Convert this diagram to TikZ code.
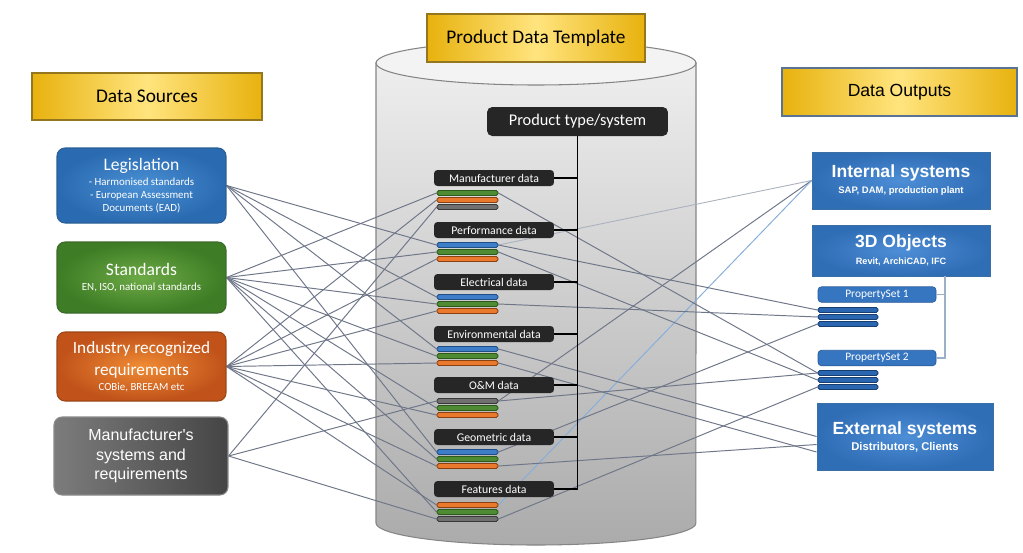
\documentclass[tikz,border=0pt]{standalone}
\usepackage{fontspec}
\setmainfont{Carlito}
\newfontfamily\arialf{Liberation Sans}
\usepackage{tikz}
\usetikzlibrary{positioning}
\pgfdeclarelayer{back}
\pgfdeclarelayer{wires}
\pgfsetlayers{back,wires,main}

\begin{document}
\begin{tikzpicture}[x=0.02cm,y=-0.02cm,
	head node/.style={draw=goldB,line width=0.8pt,left color=goldD,right color=goldD,middle color=goldL,minimum width=4.6cm,minimum height=0.94cm,inner sep=0pt,font=\fontsize{11}{13}\selectfont},
	src node/.style={rounded corners=0.16cm,line width=0.6pt,text=white,align=center,minimum width=3.38cm,inner sep=1pt,font=\fontsize{6.2}{7.3}\selectfont},
	out node/.style={draw=outB,line width=0.5pt,inner color=outL,outer color=outD,text=white,align=center,minimum width=3.56cm,inner sep=1pt},
	lbl node/.style={fill=lblK,rounded corners=2pt,text=white,minimum width=2.4cm,minimum height=0.32cm,inner sep=0pt,font=\fontsize{6.7}{8}\selectfont},
	bar node/.style={rounded corners=1pt,line width=0.5pt,minimum width=1.22cm,minimum height=0.1cm,inner sep=0pt},
	bluebar/.style={bar node,fill=barB,draw=barBd},
	greenbar/.style={bar node,fill=barG,draw=barGd},
	orangebar/.style={bar node,fill=barO,draw=barOd},
	graybar/.style={bar node,fill=barY,draw=barYd},
	ps node/.style={fill=psF,draw=psB,line width=0.4pt,rounded corners=2pt,text=white,minimum width=2.36cm,minimum height=0.31cm,inner sep=0pt,font=\fontsize{6.5}{8}\selectfont},
	psbar/.style={fill=psBar,draw=psBarD,line width=0.5pt,rounded corners=1pt,minimum width=1.2cm,minimum height=0.1cm,inner sep=0pt},
	wire/.style={color=wireC,line width=0.55pt},
	litewire/.style={color=wireL,line width=0.5pt},
	bluewire/.style={color=wireBl,line width=0.55pt}]
	
	\definecolor{goldD}{HTML}{E8B20E}
	\definecolor{goldL}{HTML}{FFE47E}
	\definecolor{goldB}{HTML}{94761E}
	\definecolor{outHB}{HTML}{5A7394}
	\definecolor{legD}{HTML}{2A6AB0}
	\definecolor{legL}{HTML}{4A90D4}
	\definecolor{legB}{HTML}{2B5F94}
	\definecolor{stdD}{HTML}{3E7C25}
	\definecolor{stdL}{HTML}{6CAA46}
	\definecolor{stdB}{HTML}{3C6A2A}
	\definecolor{indD}{HTML}{C0521A}
	\definecolor{indL}{HTML}{F08C34}
	\definecolor{indB}{HTML}{9A4717}
	\definecolor{manD}{HTML}{454545}
	\definecolor{manL}{HTML}{7C7C7C}
	\definecolor{manB}{HTML}{8A8A8A}
	\definecolor{outD}{HTML}{2F6DB5}
	\definecolor{outL}{HTML}{4D8ED6}
	\definecolor{outB}{HTML}{3A6FA8}
	\definecolor{lblK}{HTML}{262626}
	\definecolor{barB}{HTML}{3E7DC8}
	\definecolor{barBd}{HTML}{1F4E86}
	\definecolor{barG}{HTML}{4E8B33}
	\definecolor{barGd}{HTML}{2C5A1A}
	\definecolor{barO}{HTML}{E8792D}
	\definecolor{barOd}{HTML}{8C3F10}
	\definecolor{barY}{HTML}{707070}
	\definecolor{barYd}{HTML}{383838}
	\definecolor{psF}{HTML}{3676C0}
	\definecolor{psB}{HTML}{2A5E9A}
	\definecolor{psBar}{HTML}{2B67B0}
	\definecolor{psBarD}{HTML}{173E6E}
	\definecolor{wireC}{HTML}{6E7688}
	\definecolor{wireL}{HTML}{AAB2BE}
	\definecolor{wireBl}{HTML}{86AEDA}
	\definecolor{treeC}{HTML}{9AAFC8}
	\definecolor{cylL}{HTML}{EEEEEE}
	\definecolor{cylD}{HTML}{ABABAB}
	\definecolor{cylT}{HTML}{F3F3F3}
	\definecolor{cylB}{HTML}{858585}
	
	\useasboundingbox (0,0) rectangle (1023,552);
	
	\begin{pgfonlayer}{back}
	\fill[white] (0,0) rectangle (1023,552);
	\draw[draw=cylB,line width=0.6pt,top color=cylL,bottom color=cylD] (376,63) -- (376,523) arc[start angle=180,end angle=360,x radius=3.2cm,y radius=0.44cm] -- (696,63) -- cycle;
	\draw[draw=cylB,line width=0.6pt,fill=cylT] (536,63) ellipse [x radius=3.2cm,y radius=0.44cm];
	\end{pgfonlayer}
	
	\node[head node] (dsrc) at (147,96.5) {Data Sources};
	\node[head node,minimum width=4.36cm,minimum height=0.96cm] (pdt) at (536,38) {Product Data Template};
	\node[head node,draw=outHB,minimum width=4.7cm,minimum height=0.96cm,font=\arialf\fontsize{10}{12}\selectfont] (dout) at (899.5,92) {Data Outputs};
	
	\node[src node,minimum height=1.5cm,draw=legB,inner color=legL,outer color=legD] (leg) at (141.5,185.5) {{\fontsize{10}{12}\selectfont Legislation}\\[1.4pt]- Harmonised standards\\- European Assessment\\Documents (EAD)};
	\node[src node,minimum height=1.42cm,draw=stdB,inner color=stdL,outer color=stdD] (std) at (141.5,277.5) {{\fontsize{10}{12}\selectfont Standards}\\[1.6pt]EN, ISO, national standards};
	\node[src node,minimum height=1.38cm,draw=indB,inner color=indL,outer color=indD] (ind) at (141.5,366.5) {{\fontsize{9.8}{12}\selectfont Industry recognized}\\[3.2pt]{\fontsize{9.8}{12}\selectfont requirements}\\[1.4pt]COBie, BREEAM etc};
	\node[src node,minimum height=1.56cm,minimum width=3.48cm,draw=manB,left color=manL,right color=manD,font=\arialf\fontsize{9.1}{11.2}\selectfont] (man) at (141,456) {Manufacturer's\\systems and\\requirements};
	
	\node[fill=lblK,rounded corners=3pt,text=white,minimum width=3.62cm,minimum height=0.58cm,inner sep=0pt,font=\fontsize{9.3}{11}\selectfont] (pts) at (577.5,121.5) {Product type/system};
	
	\node[lbl node] (md) at (494,178) {Manufacturer data};
	\node[greenbar] (m1) at (467.5,193) {};
	\node[orangebar] (m2) at (467.5,200) {};
	\node[graybar] (m3) at (467.5,207) {};
	\node[lbl node] (pd) at (494,230) {Performance data};
	\node[bluebar] (p1) at (467.5,245) {};
	\node[greenbar] (p2) at (467.5,252) {};
	\node[orangebar] (p3) at (467.5,259) {};
	\node[lbl node] (ed) at (494,282) {Electrical data};
	\node[bluebar] (e1) at (467.5,297) {};
	\node[greenbar] (e2) at (467.5,304) {};
	\node[orangebar] (e3) at (467.5,311) {};
	\node[lbl node] (vd) at (494,334) {Environmental data};
	\node[bluebar] (v1) at (467.5,349) {};
	\node[greenbar] (v2) at (467.5,356) {};
	\node[orangebar] (v3) at (467.5,363) {};
	\node[lbl node] (od) at (494,385) {O\&M data};
	\node[graybar] (o1) at (467.5,401) {};
	\node[greenbar] (o2) at (467.5,408) {};
	\node[orangebar] (o3) at (467.5,415) {};
	\node[lbl node] (gd) at (494,437) {Geometric data};
	\node[bluebar] (g1) at (467.5,452) {};
	\node[greenbar] (g2) at (467.5,459) {};
	\node[orangebar] (g3) at (467.5,466) {};
	\node[lbl node] (fd) at (494,489) {Features data};
	\node[orangebar] (f1) at (467.5,505) {};
	\node[greenbar] (f2) at (467.5,512) {};
	\node[graybar] (f3) at (467.5,519) {};
	
	\draw[line width=0.7pt] (pts.south) |- (fd.east);
	\draw[line width=0.7pt] (md.east) -- (md.east -| pts.south);
	\draw[line width=0.7pt] (pd.east) -- (pd.east -| pts.south);
	\draw[line width=0.7pt] (ed.east) -- (ed.east -| pts.south);
	\draw[line width=0.7pt] (vd.east) -- (vd.east -| pts.south);
	\draw[line width=0.7pt] (od.east) -- (od.east -| pts.south);
	\draw[line width=0.7pt] (gd.east) -- (gd.east -| pts.south);
	
	\node[out node,minimum height=1.14cm] (int) at (901,180.5) {{\arialf\bfseries\fontsize{10}{12}\selectfont Internal systems}\\[-2.9pt]{\arialf\bfseries\fontsize{5.4}{6.5}\selectfont SAP, DAM, production plant}};
	\node[out node,minimum height=1.02cm] (obj) at (901,250.5) {{\arialf\bfseries\fontsize{10}{12}\selectfont 3D Objects}\\[-2.4pt]{\arialf\bfseries\fontsize{5.2}{6.3}\selectfont Revit, ArchiCAD, IFC}};
	\node[ps node] (ps1) at (877,294.5) {PropertySet 1};
	\node[psbar] (q1) at (848,310) {};
	\node[psbar] (q2) at (848,317) {};
	\node[psbar] (q3) at (848,324) {};
	\node[ps node] (ps2) at (877,358) {PropertySet 2};
	\node[psbar] (r1) at (848,373) {};
	\node[psbar] (r2) at (848,380) {};
	\node[psbar] (r3) at (848,387) {};
	\node[out node,minimum height=1.34cm,minimum width=3.52cm] (ext) at (905,436.5) {{\arialf\bfseries\fontsize{10}{12}\selectfont External systems}\\[-2.9pt]{\arialf\bfseries\fontsize{6.4}{7.7}\selectfont Distributors, Clients}};
	
	\coordinate (objdrop) at (945,276);
	\draw[treeC,line width=0.8pt] (objdrop) |- (ps2.east);
	\draw[treeC,line width=0.8pt] (ps1.east) -- (ps1.east -| objdrop);
	
	\begin{pgfonlayer}{wires}
	\path[wire]
	(leg.east) edge (p1.west)
	(leg.east) edge (e1.west)
	(leg.east) edge (v1.west)
	(leg.east) edge (g1.west)
	(std.east) edge (m1.west)
	(std.east) edge (p2.west)
	(std.east) edge (e2.west)
	(std.east) edge (v2.west)
	(std.east) edge (o2.west)
	(std.east) edge (g2.west)
	(std.east) edge (f2.west)
	(ind.east) edge (m2.west)
	(ind.east) edge (p3.west)
	(ind.east) edge (e3.west)
	(ind.east) edge (v3.west)
	(ind.east) edge (o3.west)
	(ind.east) edge (g3.west)
	(ind.east) edge (f1.west)
	(man.east) edge (m3.west)
	(man.east) edge (o1.west)
	(man.east) edge (f3.west);
	\path[wire]
	(p1.east) edge[litewire] (int.west)
	(o1.east) edge (int.west)
	(f1.east) edge[bluewire] (int.west)
	(p1.east) edge (q1.west)
	(e2.east) edge (q2.west)
	(g1.east) edge (q3.west)
	(m1.east) edge (r1.west)
	(o1.east) edge (r1.west)
	(p2.east) edge (r2.west)
	(f3.east) edge (r3.west)
	(v1.east) edge ([yshift=0pt]ext.west)
	(g3.east) edge ([yshift=-0.16cm]ext.west)
	(v3.east) edge ([yshift=-0.31cm]ext.west);
	\end{pgfonlayer}
\end{tikzpicture}
\end{document}
